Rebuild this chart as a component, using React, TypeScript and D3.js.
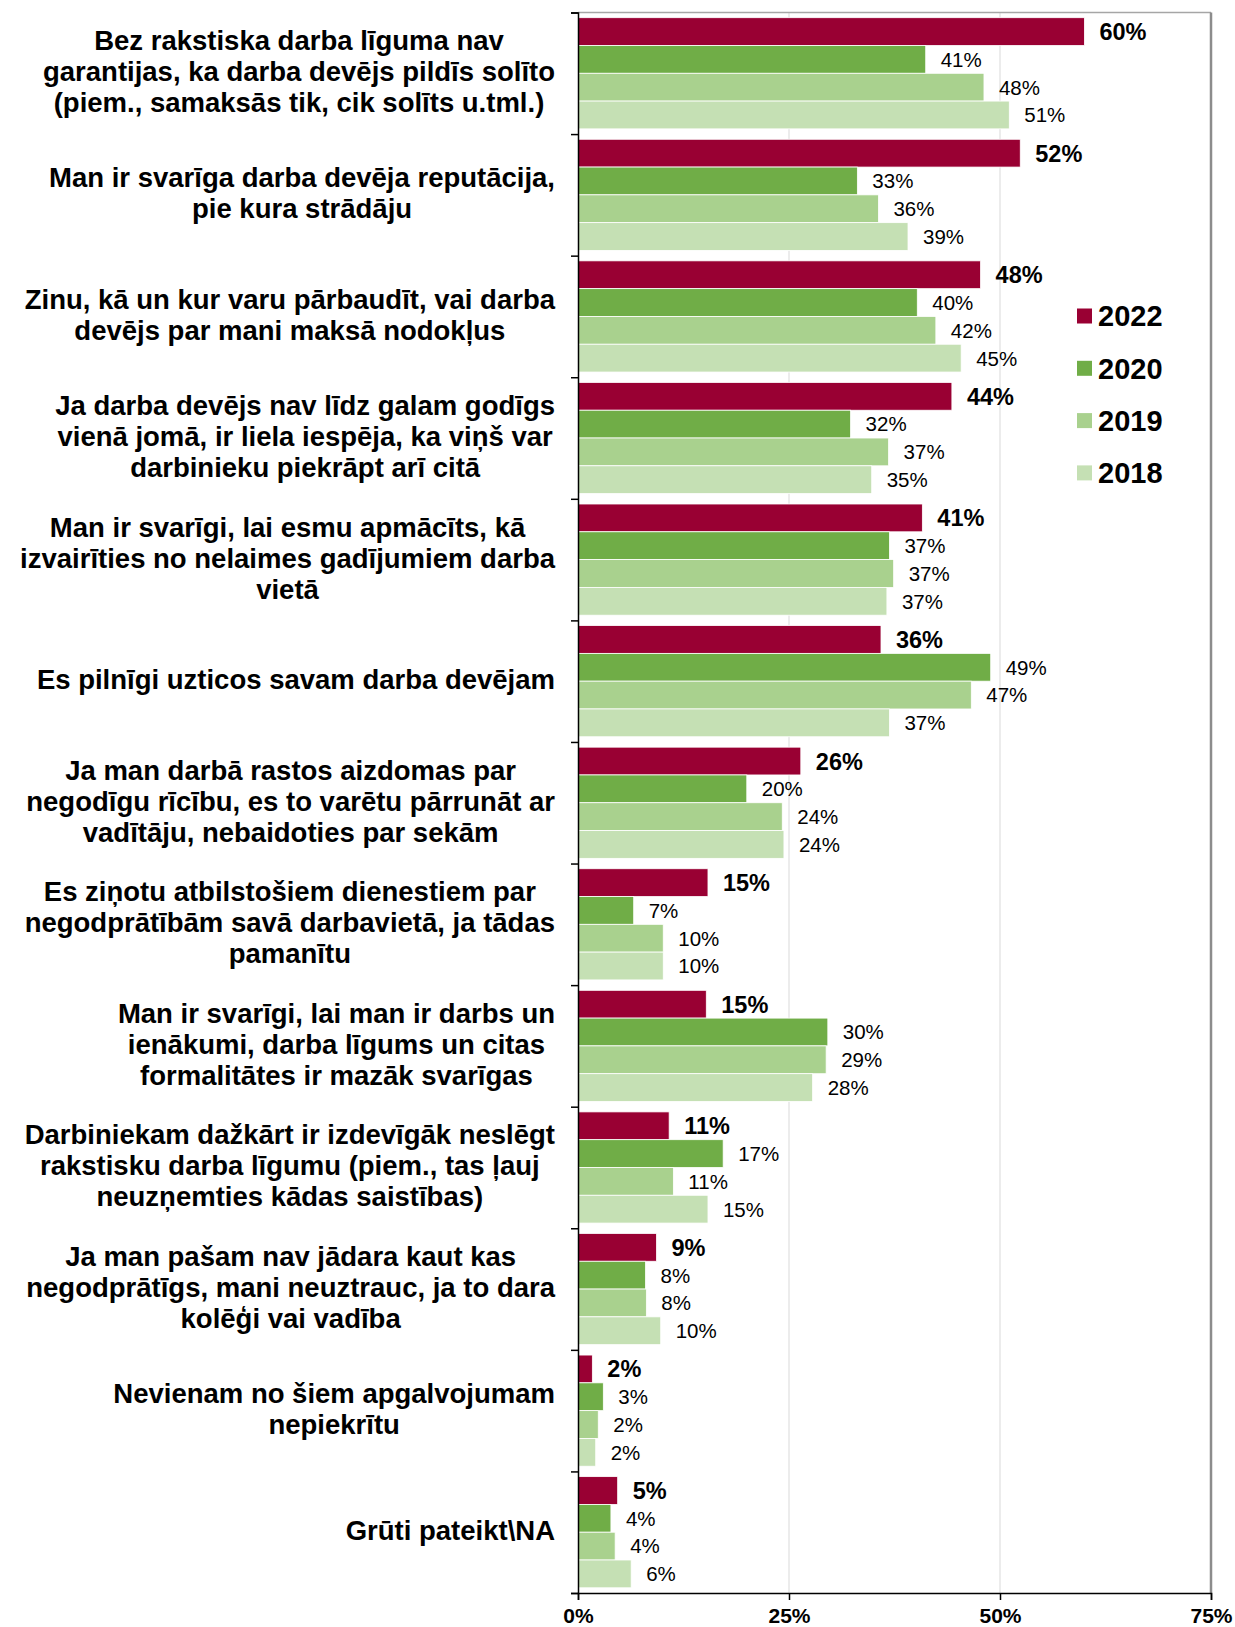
import React, { useEffect, useRef } from "react";
import * as d3 from "d3";

// category labels, already wrapped the way the original chart wraps them
const categories: string[][] = [
  ["Bez rakstiska darba līguma nav", "garantijas, ka darba devējs pildīs solīto", "(piem., samaksās tik, cik solīts u.tml.)"],
  ["Man ir svarīga darba devēja reputācija,", "pie kura strādāju"],
  ["Zinu, kā un kur varu pārbaudīt, vai darba", "devējs par mani maksā nodokļus"],
  ["Ja darba devējs nav līdz galam godīgs", "vienā jomā, ir liela iespēja, ka viņš var", "darbinieku piekrāpt arī citā"],
  ["Man ir svarīgi, lai esmu apmācīts, kā", "izvairīties no nelaimes gadījumiem darba", "vietā"],
  ["Es pilnīgi uzticos savam darba devējam"],
  ["Ja man darbā rastos aizdomas par", "negodīgu rīcību, es to varētu pārrunāt ar", "vadītāju, nebaidoties par sekām"],
  ["Es ziņotu atbilstošiem dienestiem par", "negodprātībām savā darbavietā, ja tādas", "pamanītu"],
  ["Man ir svarīgi, lai man ir darbs un", "ienākumi, darba līgums un citas", "formalitātes ir mazāk svarīgas"],
  ["Darbiniekam dažkārt ir izdevīgāk neslēgt", "rakstisku darba līgumu (piem., tas ļauj", "neuzņemties kādas saistības)"],
  ["Ja man pašam nav jādara kaut kas", "negodprātīgs, mani neuztrauc, ja to dara", "kolēģi vai vadība"],
  ["Nevienam no šiem apgalvojumam", "nepiekrītu"],
  ["Grūti pateikt\\NA"],
];

const years = ["2022", "2020", "2019", "2018"];
// percentages (labels show them rounded)
const values2022 = [60.0, 52.4, 47.7, 44.3, 40.8, 35.9, 26.4, 15.4, 15.2, 10.8, 9.3, 1.7, 4.7];
const values2020 = [41.2, 33.1, 40.2, 32.3, 36.9, 48.9, 20.0, 6.6, 29.6, 17.2, 8.0, 3.0, 3.9];
const values2019 = [48.1, 35.6, 42.4, 36.8, 37.4, 46.6, 24.2, 10.1, 29.4, 11.3, 8.1, 2.4, 4.4];
const values2018 = [51.1, 39.1, 45.4, 34.8, 36.6, 36.9, 24.4, 10.1, 27.8, 15.4, 9.8, 2.1, 6.3];
const colors = ["#990033", "#70ad47", "#a9d18e", "#c5e0b4"];
const xTicks = [0, 25, 50, 75];

const FONT = "'Liberation Sans', Arial, Helvetica, sans-serif";

function App() {
  const ref = useRef<SVGSVGElement>(null);

  const W = 1235, H = 1627;
  const left = 578, right = 1211, top = 12.5, bottom = 1593;

  useEffect(() => {
    document.body.style.margin = "0";
    draw();
  }, []);

  const draw = () => {
    const svg = d3.select(ref.current);
    svg.selectAll("*").remove();

    const series = [values2022, values2020, values2019, values2018];

    const x = d3.scaleLinear().domain([0, 75]).range([left, right]);
    const y = d3.scaleBand<number>().domain(d3.range(categories.length)).range([top, bottom]);
    const inner = d3.scaleBand<number>().domain(d3.range(years.length))
      .range([5.2, y.bandwidth() - 5.2]);
    const edges = d3.scaleLinear().domain([0, categories.length]).range([top, bottom]);

    // grid
    svg.append("g").selectAll("line").data([25, 50]).join("line")
      .attr("x1", d => x(d)).attr("x2", d => x(d))
      .attr("y1", top).attr("y2", bottom)
      .attr("stroke", "#d9d9d9").attr("stroke-width", 1);

    // top + right border
    svg.append("line").attr("x1", left).attr("x2", right).attr("y1", top).attr("y2", top)
      .attr("stroke", "#a6a6a6").attr("stroke-width", 1.5);
    svg.append("line").attr("x1", right).attr("x2", right).attr("y1", top).attr("y2", bottom)
      .attr("stroke", "#8c8c8c").attr("stroke-width", 2.5);

    // bars
    const groups = svg.append("g").selectAll("g").data(categories).join("g")
      .attr("transform", (_, i) => `translate(0,${y(i)})`);

    groups.each(function (_, ci) {
      const g = d3.select(this);
      series.forEach((vals, si) => {
        const v = vals[ci];
        const by = inner(si)!;
        g.append("rect")
          .attr("x", x(0)).attr("y", by)
          .attr("width", x(v) - x(0)).attr("height", inner.bandwidth())
          .attr("fill", colors[si])
          .attr("stroke", "#fff").attr("stroke-width", 0.8);
        g.append("text")
          .attr("x", x(v) + 15).attr("y", by + inner.bandwidth() / 2)
          .attr("dy", "0.36em")
          .style("font-family", FONT)
          .style("font-size", si === 0 ? "23.5px" : "20.5px")
          .style("font-weight", si === 0 ? "bold" : "normal")
          .attr("fill", "#000")
          .text(Math.round(v) + "%");
      });
    });

    // category labels: block right-aligned to the axis, lines centered in the block
    const lineH = 31;
    categories.forEach((lines, ci) => {
      const cy = y(ci)! + y.bandwidth() / 2;
      const t = svg.append("g");
      const texts = t.selectAll("text").data(lines).join("text")
        .attr("y", (_, li) => cy + (li - (lines.length - 1) / 2) * lineH)
        .attr("dy", "0.29em")
        .attr("text-anchor", "middle")
        .style("font-family", FONT)
        .style("font-size", "27.5px")
        .style("font-weight", "bold")
        .attr("fill", "#000")
        .text(d => d);
      let maxW = 0;
      texts.each(function () {
        maxW = Math.max(maxW, (this as SVGTextElement).getComputedTextLength());
      });
      texts.attr("x", 555 - maxW / 2);
    });

    // left axis with ticks between groups
    const yAxis = d3.axisLeft(edges).tickValues(d3.range(categories.length + 1))
      .tickSize(7).tickFormat(() => "");
    svg.append("g").attr("transform", `translate(${left},0)`).call(yAxis)
      .call(g => g.selectAll("line,path").attr("stroke", "#000").attr("stroke-width", 1.5));

    // bottom axis
    const xAxis = d3.axisBottom(x).tickValues(xTicks).tickSize(7).tickPadding(8)
      .tickFormat(d => d + "%");
    svg.append("g").attr("transform", `translate(0,${bottom})`).call(xAxis)
      .call(g => g.selectAll("line,path").attr("stroke", "#000").attr("stroke-width", 1.5))
      .call(g => g.selectAll("text")
        .style("font-family", FONT).style("font-size", "21px")
        .style("font-weight", "bold").attr("fill", "#000"));

    // legend
    const legend = svg.append("g").selectAll("g").data(years).join("g")
      .attr("transform", (_, i) => `translate(1077,${316 + i * 52.3})`);
    legend.append("rect").attr("x", 0).attr("y", -7.5).attr("width", 15).attr("height", 15)
      .attr("fill", (_, i) => colors[i]);
    legend.append("text").attr("x", 21).attr("dy", "0.36em")
      .style("font-family", FONT).style("font-size", "29px").style("font-weight", "bold")
      .attr("fill", "#000")
      .text(d => d);
  };

  return (
    <div>
      <svg ref={ref} width={W} height={H} style={{ display: "block", background: "#fff" }} />
    </div>
  );
}

export default App;
